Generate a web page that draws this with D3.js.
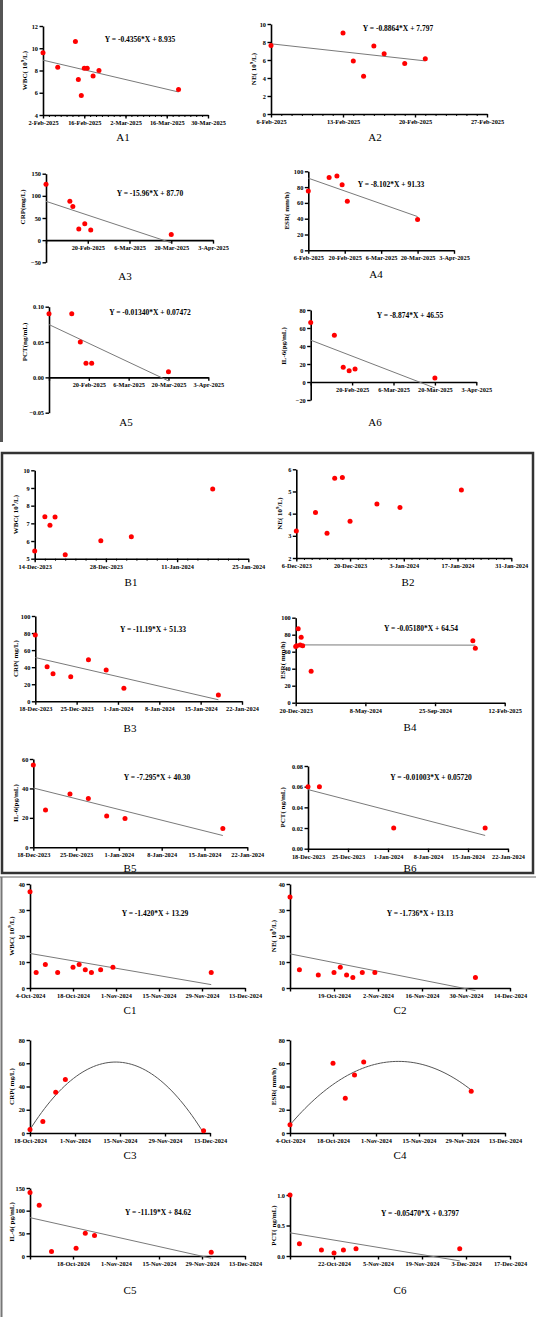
<!DOCTYPE html>
<html>
<head>
<meta charset="utf-8">
<script src="https://cdn.jsdelivr.net/npm/d3@7"></script>
<style>
  body { margin: 0; background: #fff; }
  svg { display: block; }
  .tick text { font-family: "Liberation Serif", serif; font-weight: bold; font-size: 6.3px; fill: #000; }
  .eq { font-family: "Liberation Serif", serif; font-weight: bold; font-size: 7.5px; }
  .ylab { font-family: "Liberation Serif", serif; font-weight: bold; font-size: 7px; }
  .title { font-family: "Liberation Serif", serif; font-size: 11px; }
</style>
</head>
<body>
<svg width="536" height="1317"></svg>
<script>
// ---- data ----
// A: Feb-Mar 2025
const a1Dates = ["2025-02-02","2025-02-07","2025-02-13","2025-02-14","2025-02-15","2025-02-16","2025-02-17","2025-02-19","2025-02-21","2025-03-20"];
const a1Vals = [9.6, 8.3, 10.6, 7.2, 5.75, 8.2, 8.2, 7.5, 8.0, 6.3];
const a1Fit = [8.93, 6.07];
const a2Dates = ["2025-02-06","2025-02-13","2025-02-14","2025-02-15","2025-02-16","2025-02-17","2025-02-19","2025-02-21"];
const a2Vals = [7.6, 9.0, 5.9, 4.2, 7.55, 6.7, 5.6, 6.15];
const a2Fit = [7.8, 5.9];
const a3Dates = ["2025-02-06","2025-02-14","2025-02-15","2025-02-17","2025-02-19","2025-02-21","2025-03-20"];
const a3Vals = [126, 88, 76, 25, 37, 23, 13];
const a3Fit = [87.7, -6];
const a4Dates = ["2025-02-06","2025-02-14","2025-02-17","2025-02-19","2025-02-21","2025-03-20"];
const a4Vals = [75, 92, 94, 83, 62, 39];
const a4Fit = [91.3, 42.7];
const a5Dates = ["2025-02-06","2025-02-14","2025-02-17","2025-02-19","2025-02-21","2025-03-20"];
const a5Vals = [0.09, 0.09, 0.05, 0.02, 0.02, 0.008];
const a5Fit = [0.0747, -0.005];
const a6Dates = ["2025-02-06","2025-02-14","2025-02-17","2025-02-19","2025-02-21","2025-03-20"];
const a6Vals = [66, 52, 16.3, 12.6, 14.4, 4.4];
const a6Fit = [46.5, -6.7];

// B: Dec 2023 - Jan 2024
const b1Dates = ["2023-12-14","2023-12-16","2023-12-17","2023-12-18","2023-12-20","2023-12-27","2024-01-02","2024-01-18"];
const b1Vals = [5.43, 7.37, 6.89, 7.36, 5.23, 6.02, 6.24, 8.94];
const b2Dates = ["2023-12-06","2023-12-11","2023-12-14","2023-12-16","2023-12-18","2023-12-20","2023-12-27","2024-01-02","2024-01-18"];
const b2Vals = [3.22, 4.05, 3.12, 5.6, 5.63, 3.66, 4.43, 4.28, 5.07];
const b3Dates = ["2023-12-18","2023-12-20","2023-12-21","2023-12-24","2023-12-27","2023-12-30","2024-01-02","2024-01-18"];
const b3Vals = [77.7, 40.5, 32.3, 28.8, 48.7, 36.7, 15.2, 7.4];
const b3Fit = [51.3, 1.8];
const b4Dates = ["2023-12-20","2023-12-22","2023-12-25","2023-12-29","2023-12-31","2024-01-03","2024-01-20","2024-12-10","2024-12-15"];
const b4Vals = [66, 67, 87, 68, 77, 67, 37, 73, 64];
const b4Fit = [68, 67.7];
const b5Dates = ["2023-12-18","2023-12-20","2023-12-24","2023-12-27","2023-12-30","2024-01-02","2024-01-18"];
const b5Vals = [56, 25.4, 36.3, 33.1, 21.3, 19.5, 12.7];
const b5Fit = [40.3, 8.0];
const b6Dates = ["2023-12-18","2023-12-20","2024-01-02","2024-01-18"];
const b6Vals = [0.06, 0.06, 0.02, 0.02];
const b6Fit = [0.0572, 0.0128];

// C: Oct - Dec 2024
const c1Dates = ["2024-10-04","2024-10-06","2024-10-09","2024-10-13","2024-10-18","2024-10-20","2024-10-22","2024-10-24","2024-10-27","2024-10-31","2024-12-02"];
const c1Vals = [37, 6, 9, 6, 8, 9, 7, 6, 7, 8, 6];
const c1Fit = [13.29, 1.3];
const c2Dates = ["2024-10-05","2024-10-08","2024-10-14","2024-10-19","2024-10-21","2024-10-23","2024-10-25","2024-10-28","2024-11-01","2024-12-03"];
const c2Vals = [35, 7, 5, 6, 8, 5, 4, 6, 6, 4];
const c2Fit = [13.13, -1];
const c3Dates = ["2024-10-18","2024-10-22","2024-10-26","2024-10-29","2024-12-11"];
const c3Vals = [3, 10, 35, 46, 2];
const c3CurveDates = ["2024-10-18","2024-11-13","2024-12-11"];
const c3CurveVals = [3, 61, 0];
const c4Dates = ["2024-10-04","2024-10-18","2024-10-22","2024-10-25","2024-10-28","2024-12-02"];
const c4Vals = [7, 60, 30, 50, 61, 36];
const c4CurveDates = ["2024-10-04","2024-11-12","2024-12-02"];
const c4CurveVals = [7, 61, 37];
const c5Dates = ["2024-10-04","2024-10-07","2024-10-11","2024-10-19","2024-10-22","2024-10-25","2024-12-02"];
const c5Vals = [140, 112, 10, 17, 50, 45, 8];
const c5Fit = [84.6, -5];
const c6Dates = ["2024-10-08","2024-10-11","2024-10-18","2024-10-22","2024-10-25","2024-10-29","2024-12-01"];
const c6Vals = [1.0, 0.2, 0.1, 0.05, 0.1, 0.12, 0.12];
const c6Fit = [0.38, -0.08];

// tick labels
const xTicksA1 = ["2025-02-02","2025-02-16","2025-03-02","2025-03-16","2025-03-30"];
const xLabA1 = ["2-Feb-2025","16-Feb-2025","2-Mar-2025","16-Mar-2025","30-Mar-2025"];
const xTicksA2 = ["2025-02-06","2025-02-13","2025-02-20","2025-02-27"];
const xLabA2 = ["6-Feb-2025","13-Feb-2025","20-Feb-2025","27-Feb-2025"];
const xTicksA3 = ["2025-02-06","2025-02-20","2025-03-06","2025-03-20","2025-04-03"];
const xLabA3 = ["","20-Feb-2025","6-Mar-2025","20-Mar-2025","3-Apr-2025"];
const xLabA4 = ["6-Feb-2025","20-Feb-2025","6-Mar-2025","20-Mar-2025","3-Apr-2025"];
const xTicksB1 = ["2023-12-14","2023-12-28","2024-01-11","2024-01-25"];
const xLabB1 = ["14-Dec-2023","28-Dec-2023","11-Jan-2024","25-Jan-2024"];
const xTicksB2 = ["2023-12-06","2023-12-20","2024-01-03","2024-01-17","2024-01-31"];
const xLabB2 = ["6-Dec-2023","20-Dec-2023","3-Jan-2024","17-Jan-2024","31-Jan-2024"];
const xTicksB3 = ["2023-12-18","2023-12-25","2024-01-01","2024-01-08","2024-01-15","2024-01-22"];
const xLabB3 = ["18-Dec-2023","25-Dec-2023","1-Jan-2024","8-Jan-2024","15-Jan-2024","22-Jan-2024"];
const xTicksB4 = ["2023-12-20","2024-05-08","2024-09-25","2025-02-12"];
const xLabB4 = ["20-Dec-2023","8-May-2024","25-Sep-2024","12-Feb-2025"];
const xTicksC1 = ["2024-10-04","2024-10-18","2024-11-01","2024-11-15","2024-11-29","2024-12-13"];
const xLabC1 = ["4-Oct-2024","18-Oct-2024","1-Nov-2024","15-Nov-2024","29-Nov-2024","13-Dec-2024"];
const xTicksC2 = ["2024-10-05","2024-10-19","2024-11-02","2024-11-16","2024-11-30","2024-12-14"];
const xLabC2 = ["","19-Oct-2024","2-Nov-2024","16-Nov-2024","30-Nov-2024","14-Dec-2024"];
const xTicksC3 = ["2024-10-18","2024-11-01","2024-11-15","2024-11-29","2024-12-13"];
const xLabC3 = ["18-Oct-2024","1-Nov-2024","15-Nov-2024","29-Nov-2024","13-Dec-2024"];
const xLabC5 = ["","18-Oct-2024","1-Nov-2024","15-Nov-2024","29-Nov-2024","13-Dec-2024"];
const xTicksC6 = ["2024-10-08","2024-10-22","2024-11-05","2024-11-19","2024-12-03","2024-12-17"];
const xLabC6 = ["","22-Oct-2024","5-Nov-2024","19-Nov-2024","3-Dec-2024","17-Dec-2024"];

const yTicksA1 = [4, 6, 8, 10, 12];
const yTicksA2 = [0, 2, 4, 6, 8, 10];
const yTicksA3 = [-50, 0, 50, 100, 150];
const yTicksA4 = [0, 20, 40, 60, 80, 100];
const yTicksA5 = [-0.05, 0, 0.05, 0.10];
const yTicksA6 = [-20, 0, 20, 40, 60, 80];
const yTicksB1 = [5, 6, 7, 8, 9, 10];
const yTicksB2 = [2, 3, 4, 5, 6];
const yTicksB5 = [0, 20, 40, 60];
const yTicksB6 = [0, 0.02, 0.04, 0.06, 0.08];
const yTicksC1 = [0, 10, 20, 30, 40];
const yTicksC3 = [0, 20, 40, 60, 80];
const yTicksC5 = [0, 50, 100, 150];
const yTicksC6 = [0, 0.5, 1.0];

const panels = [
  { id: "A1", d: a1Dates, v: a1Vals, fit: a1Fit, eq: "Y = -0.4356*X + 8.935", yl: ["WBC( 10", "9", "/L)"], xt: xTicksA1, xl: xLabA1, yt: yTicksA1, minor: 2,
    x0: 43, x1: 208, yT: 26, yB: 115, ex: 140, ey: 39, tx: 123, ty: 137, lx: 25 },
  { id: "A2", d: a2Dates, v: a2Vals, fit: a2Fit, eq: "Y = -0.8864*X + 7.797", yl: ["NE( 10", "9", "/L)"], xt: xTicksA2, xl: xLabA2, yt: yTicksA2, minor: 1,
    x0: 271, x1: 487, yT: 24, yB: 114, ex: 398, ey: 28, tx: 375, ty: 137, lx: 254 },
  { id: "A3", d: a3Dates, v: a3Vals, fit: a3Fit, eq: "Y = -15.96*X + 87.70", yl: ["CRP(mg/L)"], xt: xTicksA3, xl: xLabA3, yt: yTicksA3, axisAt: 0,
    x0: 46, x1: 213, yT: 173.7, yB: 262.3, ex: 150, ey: 193, tx: 125, ty: 276, lx: 23 },
  { id: "A4", d: a4Dates, v: a4Vals, fit: a4Fit, eq: "Y = -8.102*X + 91.33", yl: ["ESR( mm/h)"], xt: xTicksA3, xl: xLabA4, yt: yTicksA4,
    x0: 308.3, x1: 454, yT: 171.3, yB: 250.3, ex: 391, ey: 184, tx: 376, ty: 274, lx: 287 },
  { id: "A5", d: a5Dates, v: a5Vals, fit: a5Fit, eq: "Y = -0.01340*X + 0.07472", yl: ["PCT(ng/mL)"], xt: xTicksA3, xl: xLabA3, yt: yTicksA5, axisAt: 0, fmt: ".2f",
    x0: 49, x1: 208.3, yT: 306.7, yB: 412.7, ex: 150, ey: 312, tx: 126, ty: 422, lx: 25 },
  { id: "A6", d: a6Dates, v: a6Vals, fit: a6Fit, eq: "Y = -8.874*X + 46.55", yl: ["IL-6(pg/mL)"], xt: xTicksA3, xl: xLabA3, yt: yTicksA6, axisAt: 0,
    x0: 310.7, x1: 476.3, yT: 310, yB: 400, ex: 410, ey: 315, tx: 375, ty: 422, lx: 284 },

  { id: "B1", d: b1Dates, v: b1Vals, yl: ["WBC( 10", "9", "/L)"], xt: xTicksB1, xl: xLabB1, yt: yTicksB1, minor: 2,
    x0: 34.7, x1: 248.3, yT: 470.3, yB: 558.7, tx: 131, ty: 582, lx: 16 },
  { id: "B2", d: b2Dates, v: b2Vals, yl: ["NE( 10", "9", "/L)"], xt: xTicksB2, xl: xLabB2, yt: yTicksB2, minor: 2,
    x0: 296.3, x1: 511.3, yT: 469.3, yB: 558, tx: 408, ty: 582, lx: 280 },
  { id: "B3", d: b3Dates, v: b3Vals, fit: b3Fit, eq: "Y = -11.19*X + 51.33", yl: ["CRP( mg/L)"], xt: xTicksB3, xl: xLabB3, yt: yTicksA4,
    x0: 35.3, x1: 242, yT: 616, yB: 701.3, ex: 153, ey: 629, tx: 130, ty: 728, lx: 16 },
  { id: "B4", d: b4Dates, v: b4Vals, fit: b4Fit, eq: "Y = -0.05180*X + 64.54", yl: ["ESR( mm/h)"], xt: xTicksB4, xl: xLabB4, yt: yTicksA4,
    x0: 295.7, x1: 504.7, yT: 617.7, yB: 702.7, ex: 421, ey: 628, tx: 410, ty: 727, lx: 283 },
  { id: "B5", d: b5Dates, v: b5Vals, fit: b5Fit, eq: "Y = -7.295*X + 40.30", yl: ["IL-6(pg/mL)"], xt: xTicksB3, xl: xLabB3, yt: yTicksB5,
    x0: 33.3, x1: 247.3, yT: 759, yB: 847.3, ex: 157, ey: 777, tx: 130, ty: 868, lx: 16 },
  { id: "B6", d: b6Dates, v: b6Vals, fit: b6Fit, eq: "Y = -0.01003*X + 0.05720", yl: ["PCT( ng/mL)"], xt: xTicksB3, xl: xLabB3, yt: yTicksB6, fmt: ".2f",
    x0: 308, x1: 508, yT: 766, yB: 848.7, ex: 431, ey: 777, tx: 410, ty: 868, lx: 283 },

  { id: "C1", d: c1Dates, v: c1Vals, fit: c1Fit, eq: "Y = -1.420*X + 13.29", yl: ["WBC( 10", "9", "/L)"], xt: xTicksC1, xl: xLabC1, yt: yTicksC1,
    x0: 30, x1: 245, yT: 884, yB: 988, ex: 155, ey: 913, tx: 130, ty: 1010, lx: 12 },
  { id: "C2", d: c2Dates, v: c2Vals, fit: c2Fit, eq: "Y = -1.736*X + 13.13", yl: ["NE( 10", "9", "/L)"], xt: xTicksC2, xl: xLabC2, yt: yTicksC1,
    x0: 290, x1: 510, yT: 884, yB: 988, ex: 420, ey: 913, tx: 400, ty: 1010, lx: 274 },
  { id: "C3", d: c3Dates, v: c3Vals, curve: [c3CurveDates, c3CurveVals], yl: ["CRP( mg/L)"], xt: xTicksC3, xl: xLabC3, yt: yTicksC3,
    x0: 30, x1: 210, yT: 1040, yB: 1133, tx: 130, ty: 1155, lx: 12 },
  { id: "C4", d: c4Dates, v: c4Vals, curve: [c4CurveDates, c4CurveVals], yl: ["ESR( mm/h)"], xt: xTicksC1, xl: xLabC1, yt: yTicksC3,
    x0: 290, x1: 505, yT: 1040, yB: 1133, tx: 400, ty: 1155, lx: 274 },
  { id: "C5", d: c5Dates, v: c5Vals, fit: c5Fit, eq: "Y = -11.19*X + 84.62", yl: ["IL-6( pg/mL)"], xt: xTicksC1, xl: xLabC5, yt: yTicksC5,
    x0: 30, x1: 245, yT: 1188, yB: 1256, ex: 158, ey: 1212, tx: 130, ty: 1290, lx: 12 },
  { id: "C6", d: c6Dates, v: c6Vals, fit: c6Fit, eq: "Y = -0.05470*X + 0.3797", yl: ["PCT( ng/mL)"], xt: xTicksC6, xl: xLabC6, yt: yTicksC6, fmt: ".1f",
    x0: 290, x1: 510, yT: 1195, yB: 1256, ex: 420, ey: 1213, tx: 400, ty: 1290, lx: 274 }
];

const parse = d3.timeParse("%Y-%m-%d");
const svg = d3.select("svg");

// frames around the three groups
svg.append("line").attr("x1", 1.5).attr("x2", 1.5).attr("y1", 0).attr("y2", 442)
  .attr("stroke", "#555").attr("stroke-width", 3);
svg.append("rect").attr("x", 2).attr("y", 453).attr("width", 531).attr("height", 420)
  .attr("fill", "none").attr("stroke", "#333").attr("stroke-width", 2.5);
svg.append("line").attr("x1", 0).attr("x2", 536).attr("y1", 877).attr("y2", 877)
  .attr("stroke", "#999").attr("stroke-width", 1.5);
svg.append("line").attr("x1", 1.5).attr("x2", 1.5).attr("y1", 877).attr("y2", 1317)
  .attr("stroke", "#777").attr("stroke-width", 2);

panels.forEach(p => {
  const xt = p.xt.map(parse);
  const x = d3.scaleTime().domain([xt[0], xt[xt.length - 1]]).range([p.x0, p.x1]);
  const y = d3.scaleLinear().domain([p.yt[0], p.yt[p.yt.length - 1]]).range([p.yB, p.yT]);
  const g = svg.append("g");
  const axisY = y(p.axisAt != null ? p.axisAt : p.yt[0]);

  // minor ticks first so the major axis sits on top
  if (p.minor) {
    const minors = d3.timeDay.range(xt[0], xt[xt.length - 1], p.minor);
    g.append("g").attr("transform", `translate(0,${axisY})`)
      .call(d3.axisBottom(x).tickValues(minors).tickSize(2).tickFormat(""))
      .call(s => s.select(".domain").remove())
      .selectAll("line").attr("stroke-width", 1);
  }

  const gx = g.append("g").attr("transform", `translate(0,${axisY})`)
    .call(d3.axisBottom(x).tickValues(xt).tickSize(3.5).tickSizeOuter(0).tickPadding(2)
      .tickFormat((d, i) => p.xl[i]));
  gx.select(".domain").attr("stroke-width", 1.6);
  gx.selectAll(".tick line").attr("stroke-width", 1.4);

  const gy = g.append("g").attr("transform", `translate(${p.x0},0)`)
    .call(d3.axisLeft(y).tickValues(p.yt).tickSize(3.5).tickSizeOuter(0).tickPadding(1.5)
      .tickFormat(p.fmt ? d3.format(p.fmt) : d3.format("")));
  gy.select(".domain").attr("stroke-width", 1.6);
  gy.selectAll(".tick line").attr("stroke-width", 1.4);

  // fit line / curve
  const dates = p.d.map(parse);
  if (p.fit) {
    g.append("path")
      .datum([[dates[0], p.fit[0]], [dates[dates.length - 1], p.fit[1]]])
      .attr("d", d3.line().x(d => x(d[0])).y(d => y(d[1])))
      .attr("stroke", "#7a7a7a").attr("stroke-width", 1).attr("fill", "none");
  }
  if (p.curve) {
    // parabola through three points
    const cd = p.curve[0].map(parse), cv = p.curve[1];
    const t = cd.map(d => +d);
    const q = s => cv[0] * (s - t[1]) * (s - t[2]) / ((t[0] - t[1]) * (t[0] - t[2]))
                 + cv[1] * (s - t[0]) * (s - t[2]) / ((t[1] - t[0]) * (t[1] - t[2]))
                 + cv[2] * (s - t[0]) * (s - t[1]) / ((t[2] - t[0]) * (t[2] - t[1]));
    const pts = d3.range(0, 61).map(i => {
      const s = t[0] + (t[2] - t[0]) * i / 60;
      return [new Date(s), q(s)];
    });
    g.append("path").datum(pts)
      .attr("d", d3.line().x(d => x(d[0])).y(d => y(d[1])))
      .attr("stroke", "#555").attr("stroke-width", 1).attr("fill", "none");
  }

  g.selectAll("circle").data(dates).join("circle")
    .attr("cx", d => x(d)).attr("cy", (d, i) => y(p.v[i]))
    .attr("r", 2.5).attr("fill", "#f00");

  if (p.eq) {
    g.append("text").attr("class", "eq").attr("x", p.ex).attr("y", p.ey)
      .attr("text-anchor", "middle").attr("dominant-baseline", "central").text(p.eq);
  }

  const yl = g.append("text").attr("class", "ylab")
    .attr("transform", `translate(${p.lx},${(p.yT + (p.axisAt != null ? y(p.axisAt) : p.yB)) / 2}) rotate(-90)`)
    .attr("text-anchor", "middle").attr("dominant-baseline", "central");
  yl.append("tspan").text(p.yl[0]);
  if (p.yl.length > 1) {
    yl.append("tspan").attr("dy", -3).attr("font-size", "5px").text(p.yl[1]);
    yl.append("tspan").attr("dy", 3).text(p.yl[2]);
  }

  g.append("text").attr("class", "title").attr("x", p.tx).attr("y", p.ty)
    .attr("text-anchor", "middle").attr("dominant-baseline", "central").text(p.id);
});
</script>
</body>
</html>
